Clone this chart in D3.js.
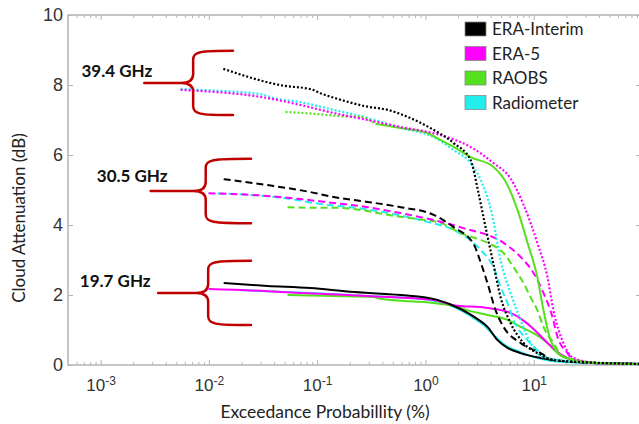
<!DOCTYPE html>
<html>
<head>
<meta charset="utf-8">
<script src="https://cdn.jsdelivr.net/npm/d3@7/dist/d3.min.js"></script>
<style>
  body { margin: 0; background: #fff; }
  svg { display: block; }
</style>
</head>
<body>
<svg id="chart"></svg>
<script>
// Sources (legend) and their colours
const sources = ["ERA-Interim", "ERA-5", "RAOBS", "Radiometer"];
const sourceColors = ["#000000", "#ff00ff", "#55e01e", "#22eeee"];
const frequencies = ["39.4 GHz", "30.5 GHz", "19.7 GHz"];

// Tick labels
const yTicks = [0, 2, 4, 6, 8, 10];
const xDecades = [1e-3, 1e-2, 1e-1, 1, 10, 100];

// [exceedance probability (%), cloud attenuation (dB)]
// 19.7 GHz
const eraInterim197 = [[0.0137,2.34],[0.0348,2.26],[0.0869,2.2],[0.203,2.09],[0.589,2.0],[1.29,1.86],[2.11,1.6],[3.03,1.31],[3.74,1.09],[4.63,0.71],[5.73,0.49],[7.55,0.34],[11.6,0.2],[21.9,0.09],[100,0.03]];
const era5_197 = [[0.00993,2.17],[0.0348,2.11],[0.0703,2.06],[0.292,1.97],[1.19,1.86],[1.82,1.71],[3.74,1.63],[6.11,1.49],[7.89,1.29],[9.95,1.03],[13.4,0.63],[17.6,0.31],[23.3,0.14],[41,0.05],[100,0.03]];
const raobs197 = [[0.0533,2.0],[0.1416,1.97],[0.332,1.94],[0.385,1.89],[1.19,1.77],[1.82,1.69],[2.61,1.54],[3.74,1.43],[5.73,1.29],[7.55,1.09],[9.95,0.91],[13.4,0.63],[16.6,0.34],[23.3,0.14],[41,0.05],[100,0.03]];
const radiometer197 = [[0.0196,2.14],[0.0869,2.06],[0.292,1.97],[0.9,1.89],[1.82,1.66],[2.61,1.4],[3.44,1.14],[4.25,0.86],[5.26,0.6],[7.55,0.37],[10.8,0.2],[17.6,0.09],[100,0.03]];

// 30.5 GHz
const eraInterim305 = [[0.0137,5.31],[0.0348,5.14],[0.0869,4.94],[0.1416,4.8],[0.292,4.66],[0.589,4.51],[1.19,4.29],[1.82,3.94],[2.78,3.46],[3.23,2.94],[3.74,2.34],[4.44,1.57],[5.26,1.09],[7.55,0.63],[11.6,0.34],[15.2,0.14],[41,0.05],[100,0.03]];
const era5_305 = [[0.00993,4.91],[0.0348,4.83],[0.0703,4.74],[0.1416,4.63],[0.292,4.51],[0.589,4.34],[1.19,4.14],[2.25,3.91],[5.26,3.49],[7.55,3.09],[9.95,2.63],[12.3,2.06],[14.9,1.37],[16.6,0.8],[20.5,0.34],[23.3,0.14],[41,0.05],[100,0.03]];
const raobs305 = [[0.0533,4.51],[0.101,4.49],[0.164,4.49],[0.252,4.43],[0.447,4.29],[0.845,4.17],[1.38,4.06],[2.11,3.77],[3.74,3.49],[5.26,3.2],[6.5,2.8],[8.05,2.34],[9.33,1.94],[10.8,1.57],[12.3,1.09],[15.2,0.63],[18.8,0.23],[41,0.05],[100,0.03]];
const radiometer305 = [[0.012,4.9],[0.0243,4.86],[0.049,4.77],[0.1074,4.6],[0.203,4.51],[0.41,4.37],[1.04,4.09],[1.82,3.86],[2.78,3.49],[3.44,3.2],[4.25,2.8],[4.94,2.23],[5.73,1.77],[6.5,1.29],[8.77,0.71],[11.6,0.34],[15.2,0.14],[41,0.05],[100,0.03]];

// 39.4 GHz
const eraInterim394 = [[0.0136,8.46],[0.049,7.98],[0.0869,7.88],[0.1146,7.73],[0.1416,7.64],[0.292,7.38],[0.447,7.29],[0.684,7.09],[1.11,6.77],[1.82,6.34],[2.61,5.86],[3.09,4.91],[3.59,3.94],[4.17,3.0],[4.94,1.94],[6.11,1.2],[8.05,0.63],[11.6,0.29],[15.2,0.14],[41.4,0.06],[100,0.03]];
const era5_394 = [[0.00548,7.86],[0.00837,7.83],[0.03,7.66],[0.0703,7.43],[0.1416,7.2],[0.292,7.0],[0.589,6.8],[1.38,6.57],[2.61,6.23],[4.25,5.77],[6.11,5.33],[8.0,4.6],[10.8,3.49],[13.4,2.51],[15.2,1.57],[18.8,0.63],[23.3,0.2],[41,0.05],[100,0.03]];
const raobs394 = [[0.051,7.23],[0.101,7.17],[0.164,7.11],[0.252,7.09],[0.346,6.89],[0.589,6.77],[1.04,6.63],[1.38,6.43],[1.82,6.23],[2.61,5.94],[4.25,5.66],[5.73,5.14],[7.08,4.43],[8.77,3.49],[10.8,2.51],[12.3,1.57],[14.3,0.71],[18.8,0.23],[41,0.05],[100,0.03]];
const radiometer394 = [[0.00548,7.89],[0.00837,7.86],[0.03,7.74],[0.0395,7.63],[0.0703,7.51],[0.1416,7.29],[0.292,7.06],[0.589,6.77],[1.19,6.51],[1.82,6.14],[2.61,5.77],[3.44,5.1],[3.9,4.6],[4.25,4.1],[4.94,3.0],[6.11,2.06],[7.55,1.29],[9.33,0.63],[12.3,0.23],[41,0.05],[100,0.03]];

// Chart dimensions
const svgWidth = 639;
const svgHeight = 424;
const plotLeft = 68;
const plotRight = 642;
const plotTop = 15;
const plotBottom = 365;

const svg = d3.select("#chart")
  .attr("width", svgWidth)
  .attr("height", svgHeight);

svg.append("rect")
  .attr("width", "100%")
  .attr("height", "100%")
  .attr("fill", "white");

const x = d3.scaleLog().domain([5e-4, 100]).range([plotLeft, plotRight]);
const y = d3.scaleLinear().domain([0, 10]).range([plotBottom, plotTop]);

const axisColor = "#b4b4b4";
const tickFont = "'Liberation Sans', Arial, sans-serif";
const labelFont = "Lato, 'Open Sans', sans-serif";

// minor ticks of the log axis
const xMinor = [];
xDecades.slice(0, -1).forEach(d => { for (let k = 2; k < 10; k++) xMinor.push(d * k); });
xMinor.unshift(6e-4, 7e-4, 8e-4, 9e-4);

const styleAxis = g => {
  g.select(".domain").remove();
  g.selectAll(".tick line").attr("stroke", axisColor).attr("stroke-width", 1);
};

// bottom axis
svg.append("g")
  .attr("transform", `translate(0,${plotBottom})`)
  .call(d3.axisBottom(x).tickValues(xMinor).tickSize(-3).tickFormat(""))
  .call(styleAxis);
svg.append("g")
  .attr("transform", `translate(0,${plotBottom})`)
  .call(d3.axisBottom(x).tickValues(xDecades).tickSize(-5).tickPadding(14))
  .call(styleAxis)
  .call(g => g.selectAll(".tick text")
    .attr("fill", "#333")
    .style("font-family", tickFont)
    .style("font-size", "17px")
    .text(null)
    .filter(d => d < 100)   // the last decade label sits outside the picture
    .each(function(d) {
      const t = d3.select(this);
      const p = Math.round(Math.log10(d));
      t.append("tspan").text("10");
      t.append("tspan").attr("dy", "-0.5em").style("font-size", "12px")
        .text(p < 0 ? "-" + Math.abs(p) : p);
    }));

// top axis ticks
svg.append("g")
  .attr("transform", `translate(0,${plotTop})`)
  .call(d3.axisTop(x).tickValues(xMinor).tickSize(-3).tickFormat(""))
  .call(styleAxis);
svg.append("g")
  .attr("transform", `translate(0,${plotTop})`)
  .call(d3.axisTop(x).tickValues(xDecades).tickSize(-5).tickFormat(""))
  .call(styleAxis);

// left axis
svg.append("g")
  .attr("transform", `translate(${plotLeft},0)`)
  .call(d3.axisLeft(y).tickValues(yTicks).tickSize(-5).tickPadding(5))
  .call(styleAxis)
  .call(g => g.selectAll(".tick text")
    .attr("fill", "#333")
    .style("font-family", tickFont)
    .style("font-size", "18px"));

// right axis ticks
svg.append("g")
  .attr("transform", `translate(${plotRight},0)`)
  .call(d3.axisRight(y).tickValues(yTicks).tickSize(-6).tickFormat(""))
  .call(styleAxis);

// box
svg.append("rect")
  .attr("x", plotLeft).attr("y", plotTop)
  .attr("width", plotRight - plotLeft).attr("height", plotBottom - plotTop)
  .attr("fill", "none").attr("stroke", axisColor).attr("stroke-width", 1.5);

// axis titles
svg.append("text")
  .attr("x", 325).attr("y", 418)
  .attr("text-anchor", "middle")
  .attr("fill", "#222")
  .style("font-family", labelFont)
  .style("font-size", "17.5px")
  .text("Exceedance Probabillity (%)");

svg.append("text")
  .attr("transform", "translate(25,218) rotate(-90)")
  .attr("text-anchor", "middle")
  .attr("fill", "#222")
  .style("font-family", labelFont)
  .style("font-size", "17px")
  .text("Cloud Attenuation (dB)");

// curves
svg.append("clipPath").attr("id", "plot-clip")
  .append("rect")
  .attr("x", plotLeft).attr("y", plotTop)
  .attr("width", plotRight - plotLeft).attr("height", plotBottom - plotTop);

const line = d3.line()
  .x(d => x(d[0]))
  .y(d => y(d[1]))
  .curve(d3.curveMonotoneX);

const dashes = { "39.4 GHz": "2,2", "30.5 GHz": "7,4", "19.7 GHz": null };

const curves = [
  { src: 3, freq: "19.7 GHz", data: radiometer197 },
  { src: 2, freq: "19.7 GHz", data: raobs197 },
  { src: 1, freq: "19.7 GHz", data: era5_197 },
  { src: 0, freq: "19.7 GHz", data: eraInterim197 },
  { src: 3, freq: "30.5 GHz", data: radiometer305 },
  { src: 2, freq: "30.5 GHz", data: raobs305 },
  { src: 1, freq: "30.5 GHz", data: era5_305 },
  { src: 0, freq: "30.5 GHz", data: eraInterim305 },
  { src: 3, freq: "39.4 GHz", data: radiometer394 },
  { src: 2, freq: "39.4 GHz", data: raobs394.filter(d => d[0] <= 0.346) },
  { src: 2, freq: "19.7 GHz", data: raobs394.filter(d => d[0] >= 0.346) }, // dense markers look solid
  { src: 1, freq: "39.4 GHz", data: era5_394 },
  { src: 0, freq: "39.4 GHz", data: eraInterim394 }
];

svg.append("g")
  .attr("clip-path", "url(#plot-clip)")
  .selectAll("path")
  .data(curves)
  .join("path")
  .attr("fill", "none")
  .attr("stroke", d => sourceColors[d.src])
  .attr("stroke-width", d => d.freq === "39.4 GHz" ? 2.2 : 2)
  .attr("stroke-dasharray", d => dashes[d.freq])
  .attr("d", d => line(d.data));

// frequency braces
const braceColor = "#c00000";
const braces = [
  { label: frequencies[0], mid: 8.06, half: 0.92, tip: 0.00253, spine: 0.00716, end: 0.0167, textX: 0.0030, textY: 8.23 },
  { label: frequencies[1], mid: 4.97, half: 0.92, tip: 0.00290, spine: 0.00935, end: 0.0245, textX: 0.00416, textY: 5.23 },
  { label: frequencies[2], mid: 2.06, half: 0.92, tip: 0.00340, spine: 0.00985, end: 0.0245, textX: 0.0029, textY: 2.23 }
];

const bracePath = b => {
  const xt = x(b.tip), xs = x(b.spine), xe = x(b.end);
  const top = y(b.mid + b.half), bot = y(b.mid - b.half), mid = y(b.mid);
  const r = 9;
  const knee = xs - 12;
  return `M${xe},${top} C${xs + 6},${top} ${xs},${top + 1} ${xs},${top + r}` +
    ` L${xs},${mid - r} C${xs},${mid - 2} ${xs - 5},${mid} ${knee},${mid} L${xt},${mid}` +
    ` M${knee},${mid} C${xs - 5},${mid} ${xs},${mid + 2} ${xs},${mid + r}` +
    ` L${xs},${bot - r} C${xs},${bot - 1} ${xs + 6},${bot} ${xe},${bot}`;
};

const braceG = svg.append("g");
braceG.selectAll("path")
  .data(braces)
  .join("path")
  .attr("fill", "none")
  .attr("stroke", braceColor)
  .attr("stroke-width", 2.5)
  .attr("stroke-linecap", "round")
  .attr("d", bracePath);

braceG.selectAll("text")
  .data(braces)
  .join("text")
  .attr("x", d => x(d.textX))
  .attr("y", d => y(d.textY))
  .attr("text-anchor", "end")
  .attr("fill", "#111")
  .style("font-family", labelFont)
  .style("font-size", "17px")
  .style("font-weight", "bold")
  .text(d => d.label);

// legend
const legend = svg.append("g").attr("transform", "translate(465,22)");
const item = legend.selectAll("g")
  .data(sources)
  .join("g")
  .attr("transform", (d, i) => `translate(0,${i * 24.5})`);
item.append("rect")
  .attr("width", 21).attr("height", 14)
  .attr("fill", (d, i) => sourceColors[i])
  .attr("stroke", "#8a8a8a").attr("stroke-width", 0.8);
item.append("text")
  .attr("x", 27).attr("y", 13)
  .attr("fill", "#222")
  .style("font-family", labelFont)
  .style("font-size", "17px")
  .text(d => d);
</script>
</body>
</html>
